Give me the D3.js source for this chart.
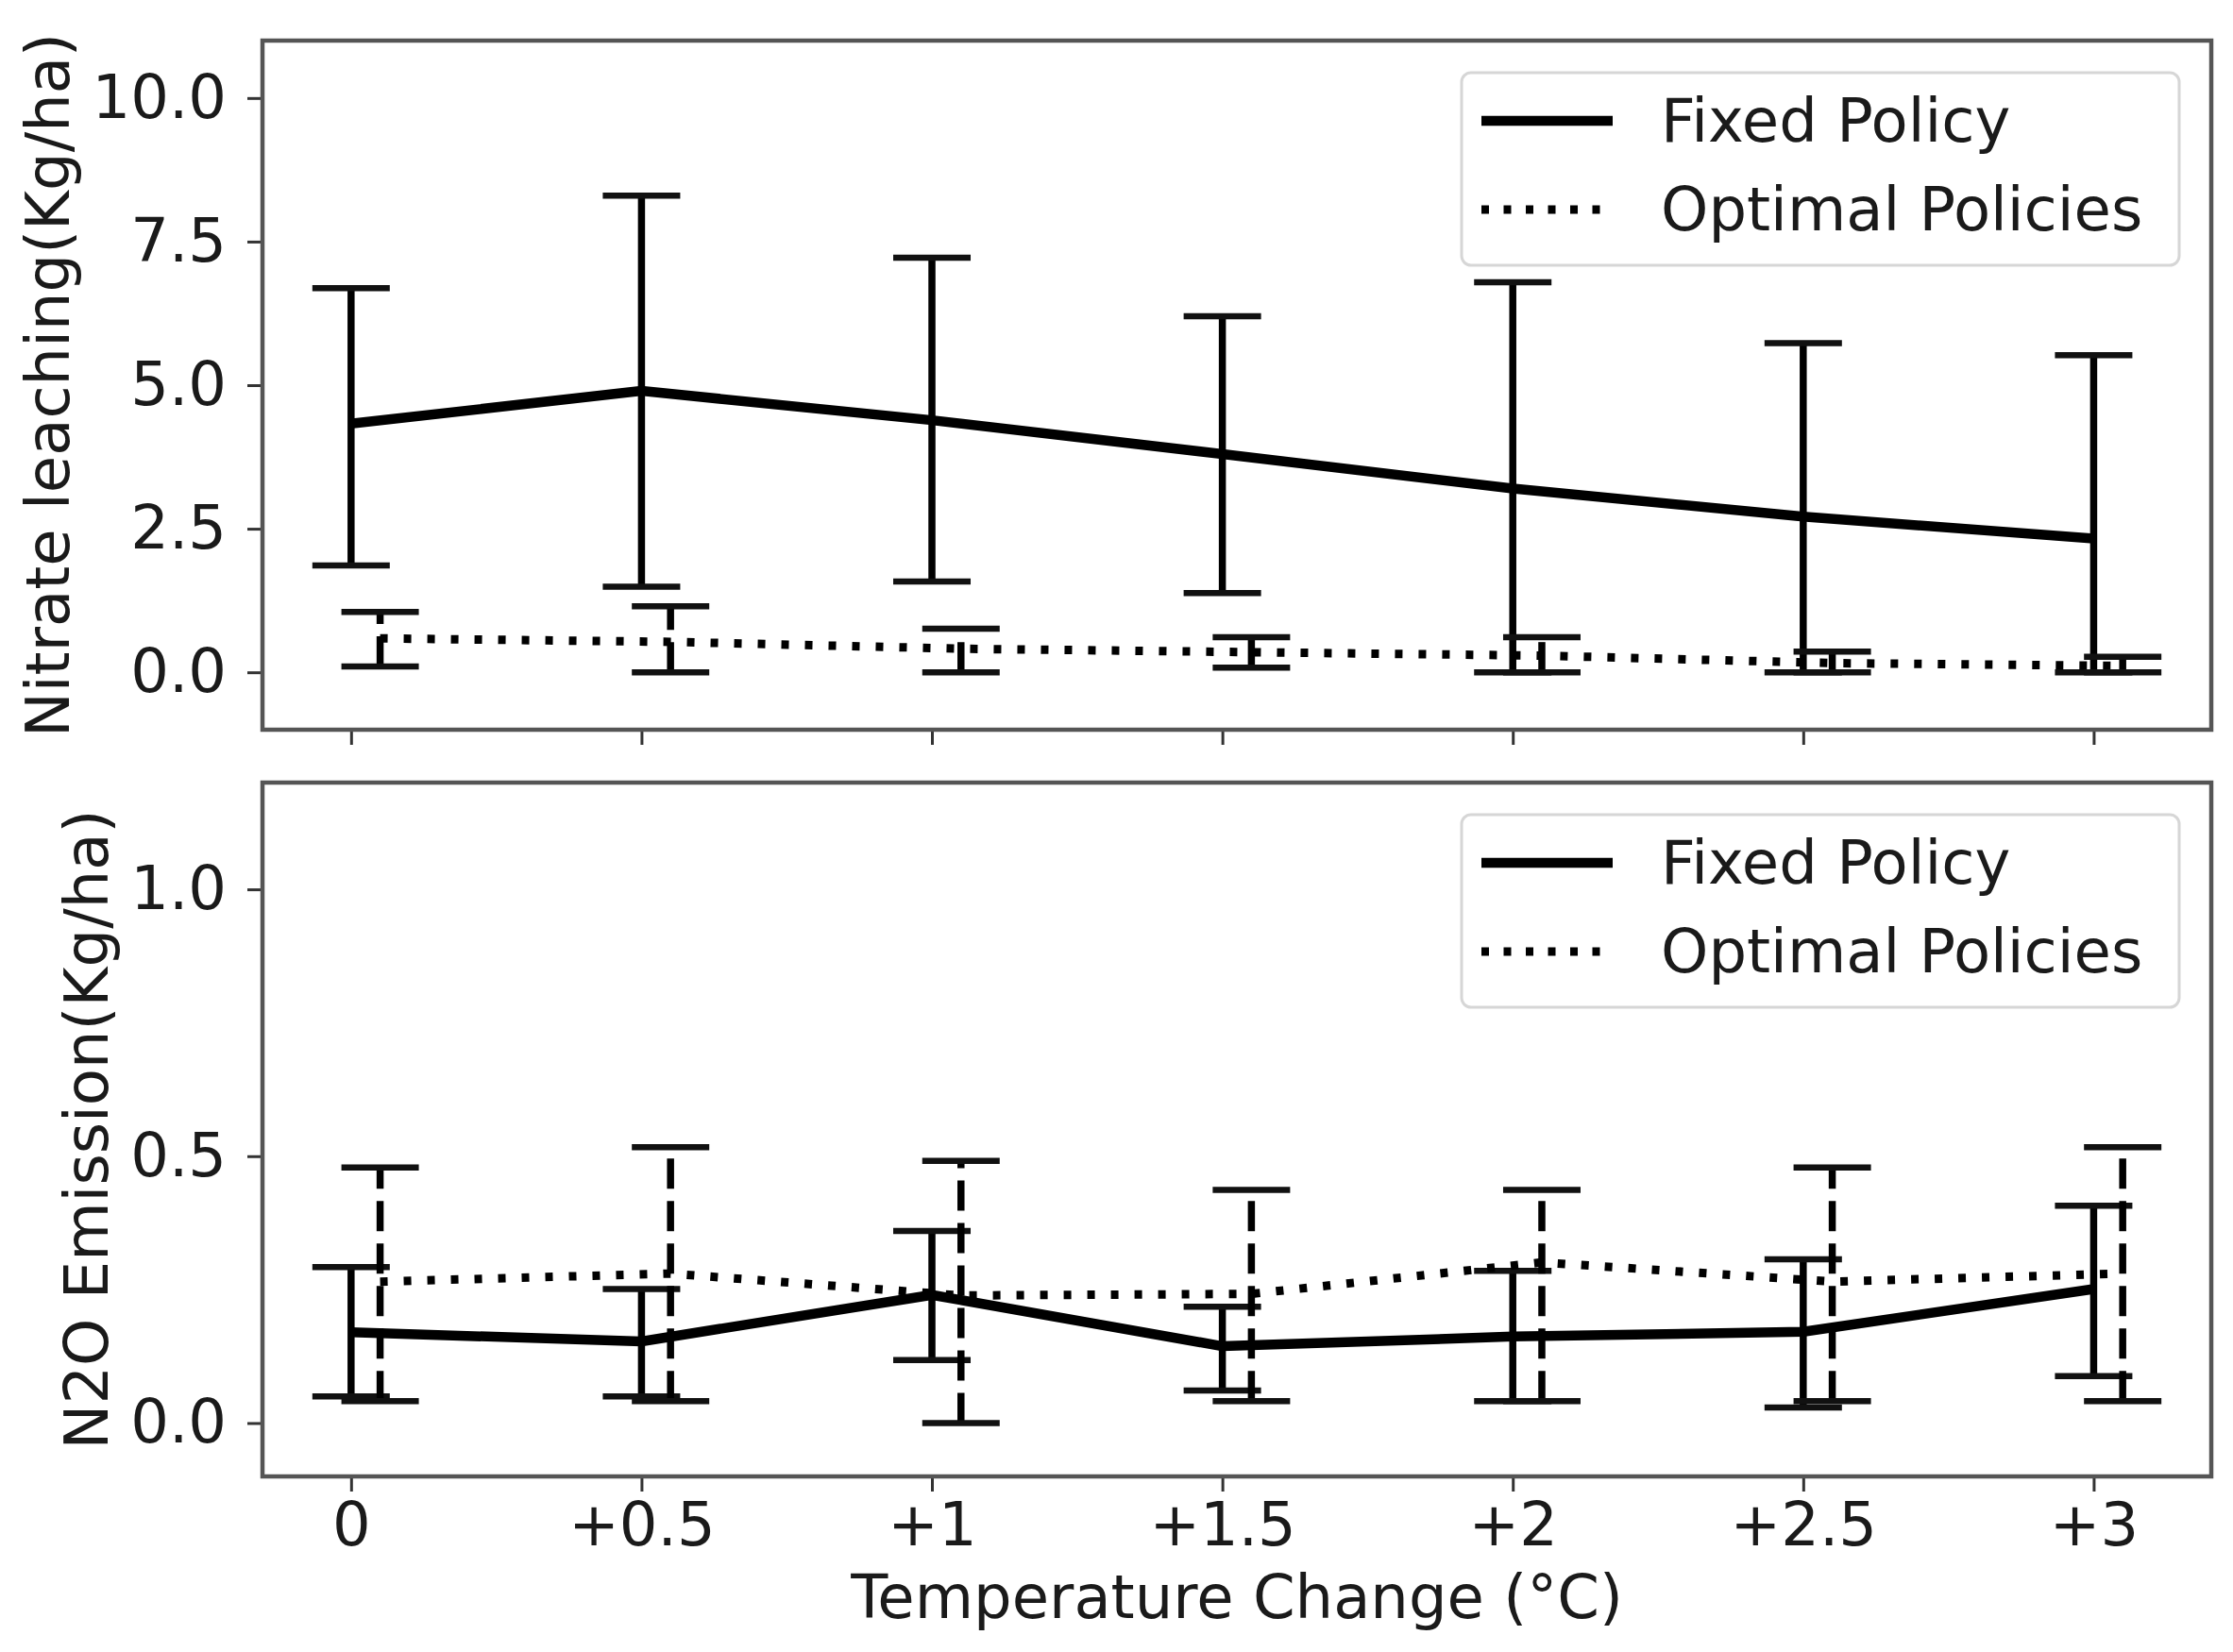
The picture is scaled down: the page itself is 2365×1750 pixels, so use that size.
<!DOCTYPE html>
<html>
<head>
<meta charset="utf-8">
<script src="https://cdn.jsdelivr.net/npm/d3@7"></script>
<style>
  html, body { margin: 0; padding: 0; background: #ffffff; }
  svg { display: block; }
  text { font-family: "DejaVu Sans", sans-serif; fill: #1a1a1a; }
</style>
</head>
<body>
<svg id="chart" width="2365" height="1750"></svg>
<script>
// ---------- data ----------
const categories = ["0", "+0.5", "+1", "+1.5", "+2", "+2.5", "+3"];

const nitrateFixedMean = [4.33, 4.90, 4.39, 3.80, 3.20, 2.71, 2.33];
const nitrateFixedLow  = [1.86, 1.49, 1.58, 1.38, 0.00, 0.00, 0.00];
const nitrateFixedHigh = [6.69, 8.30, 7.22, 6.20, 6.79, 5.73, 5.52];

const nitrateOptMean = [0.59, 0.53, 0.41, 0.35, 0.29, 0.16, 0.11];
const nitrateOptLow  = [0.10, 0.00, 0.00, 0.08, 0.00, 0.00, 0.00];
const nitrateOptHigh = [1.05, 1.15, 0.76, 0.61, 0.61, 0.36, 0.27];

const n2oFixedMean = [0.170, 0.153, 0.240, 0.144, 0.162, 0.171, 0.251];
const n2oFixedLow  = [0.050, 0.050, 0.118, 0.061, 0.041, 0.029, 0.088];
const n2oFixedHigh = [0.292, 0.251, 0.360, 0.218, 0.285, 0.307, 0.407];

const n2oOptMean = [0.265, 0.280, 0.239, 0.242, 0.301, 0.265, 0.280];
const n2oOptLow  = [0.041, 0.041, 0.000, 0.041, 0.041, 0.041, 0.041];
const n2oOptHigh = [0.479, 0.517, 0.491, 0.437, 0.437, 0.479, 0.517];

const nitrateTicks = [0, 2.5, 5, 7.5, 10];
const n2oTicks = [0, 0.5, 1.0];

const legendLabels = ["Fixed Policy", "Optimal Policies"];
const xLabel = "Temperature Change (°C)";
const yLabelTop = "Nitrate leaching(Kg/ha)";
const yLabelBottom = "N2O Emission(Kg/ha)";

// ---------- layout ----------
const svg = d3.select("#chart");
svg.append("rect").attr("width", 2365).attr("height", 1750).attr("fill", "#fff");

const left = 278, right = 2342;
const optOffset = 0.1;
const x = d3.scaleLinear().domain([-0.305, 6.405]).range([left, right]);
const FONT = 64;

const panels = [
  {
    top: 43, bottom: 773, domain: [-1, 11], ticks: nitrateTicks,
    label: yLabelTop, labelX: 51,
    fixed: { mean: nitrateFixedMean, low: nitrateFixedLow, high: nitrateFixedHigh },
    opt:   { mean: nitrateOptMean,   low: nitrateOptLow,   high: nitrateOptHigh },
    showXLabels: false
  },
  {
    top: 829, bottom: 1564, domain: [-0.1, 1.2], ticks: n2oTicks,
    label: yLabelBottom, labelX: 92,
    fixed: { mean: n2oFixedMean, low: n2oFixedLow, high: n2oFixedHigh },
    opt:   { mean: n2oOptMean,   low: n2oOptLow,   high: n2oOptHigh },
    showXLabels: true
  }
];

panels.forEach(p => {
  const y = d3.scaleLinear().domain(p.domain).range([p.bottom, p.top]);
  const g = svg.append("g");

  const clipId = "clip" + p.top;
  svg.append("clipPath").attr("id", clipId)
    .append("rect").attr("x", left).attr("y", p.top)
    .attr("width", right - left).attr("height", p.bottom - p.top);
  const plot = g.append("g").attr("clip-path", `url(#${clipId})`);

  const idx = d3.range(categories.length);

  function drawErr(series, offset, dashed) {
    const eg = plot.append("g");
    eg.selectAll("line.v").data(idx).join("line")
      .attr("x1", i => x(i + offset)).attr("x2", i => x(i + offset))
      .attr("y1", i => y(series.low[i])).attr("y2", i => y(series.high[i]))
      .attr("stroke", "#000").attr("stroke-width", 7.5)
      .attr("stroke-dasharray", dashed ? "32,13" : null);
    ["low", "high"].forEach(k => {
      eg.selectAll("line.c" + k).data(idx).join("line")
        .attr("x1", i => x(i + offset) - 41).attr("x2", i => x(i + offset) + 41)
        .attr("y1", i => y(series[k][i])).attr("y2", i => y(series[k][i]))
        .attr("stroke", "#111").attr("stroke-width", 6.5);
    });
  }

  const line = (offset, series) => d3.line()
    .x(i => x(i + offset)).y(i => y(series.mean[i]))(idx);

  plot.append("path").attr("d", line(0, p.fixed))
    .attr("fill", "none").attr("stroke", "#000").attr("stroke-width", 10.5)
    .attr("stroke-linejoin", "round");
  drawErr(p.fixed, 0, false);

  plot.append("path").attr("d", line(optOffset, p.opt))
    .attr("fill", "none").attr("stroke", "#000").attr("stroke-width", 9)
    .attr("stroke-dasharray", "8,17");
  drawErr(p.opt, optOffset, true);

  const yAxis = d3.axisLeft(y).tickValues(p.ticks).tickFormat(d3.format(".1f"))
    .tickSize(16).tickPadding(22);
  const ya = g.append("g").attr("transform", `translate(${left},0)`).call(yAxis);
  ya.select(".domain").remove();
  ya.selectAll(".tick line").attr("stroke", "#333").attr("stroke-width", 3);
  ya.selectAll(".tick text").attr("font-size", FONT).attr("fill", "#1a1a1a")
    .attr("font-family", "DejaVu Sans");

  const xAxis = d3.axisBottom(x).tickValues(idx)
    .tickFormat(i => p.showXLabels ? categories[i] : "")
    .tickSize(16).tickPadding(12);
  const xa = g.append("g").attr("transform", `translate(0,${p.bottom})`).call(xAxis);
  xa.select(".domain").remove();
  xa.selectAll(".tick line").attr("stroke", "#333").attr("stroke-width", 3);
  xa.selectAll(".tick text").attr("font-size", FONT).attr("fill", "#1a1a1a")
    .attr("font-family", "DejaVu Sans");

  g.append("rect").attr("x", left).attr("y", p.top)
    .attr("width", right - left).attr("height", p.bottom - p.top)
    .attr("fill", "none").attr("stroke", "#555").attr("stroke-width", 4.5);

  g.append("text")
    .attr("transform", `translate(${p.labelX},${(p.top + p.bottom) / 2}) rotate(-90)`)
    .attr("text-anchor", "middle").attr("dominant-baseline", "central")
    .attr("font-size", FONT).text(p.label);

  const lx = 1548, ly = p.top + 34, lw = 760, lh = 204;
  const lg = g.append("g");
  lg.append("rect").attr("x", lx).attr("y", ly).attr("width", lw).attr("height", lh)
    .attr("rx", 10).attr("fill", "#fff").attr("fill-opacity", 0.8)
    .attr("stroke", "#d6d6d6").attr("stroke-width", 3);
  legendLabels.forEach((lab, k) => {
    const cy = ly + 51 + k * 94;
    lg.append("line").attr("x1", lx + 21).attr("x2", lx + 160)
      .attr("y1", cy).attr("y2", cy).attr("stroke", "#000")
      .attr("stroke-width", k === 0 ? 10.5 : 9)
      .attr("stroke-dasharray", k === 0 ? null : "8,15.5");
    lg.append("text").attr("x", lx + 211).attr("y", cy)
      .attr("dominant-baseline", "central").attr("font-size", FONT).text(lab);
  });
});

svg.append("text").attr("x", (left + right) / 2).attr("y", 1714)
  .attr("text-anchor", "middle").attr("font-size", FONT).text(xLabel);
</script>
</body>
</html>
